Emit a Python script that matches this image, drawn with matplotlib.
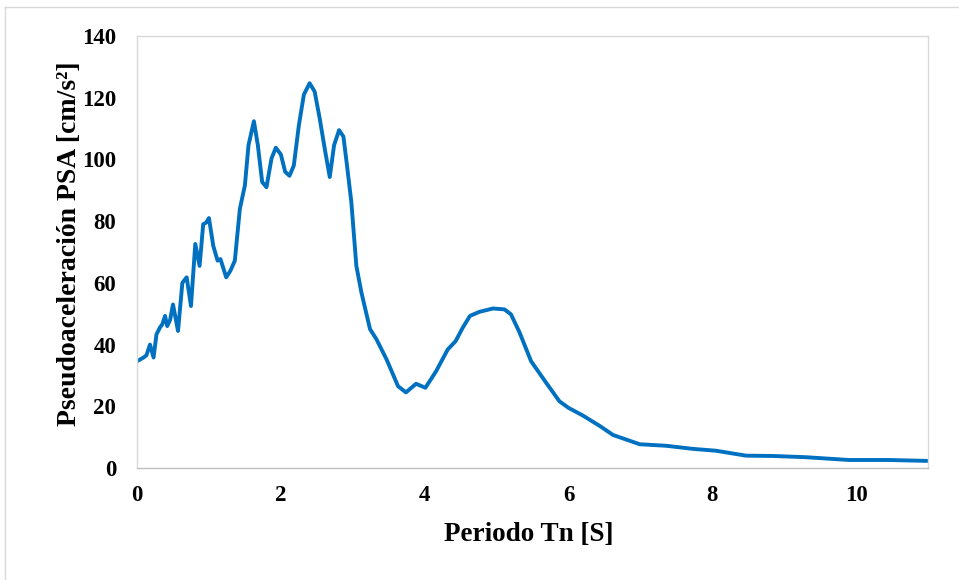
import matplotlib.pyplot as plt
from matplotlib.lines import Line2D

# spectrum values
periodo = [0.0, 0.09, 0.13, 0.18, 0.23, 0.27, 0.32, 0.35, 0.39, 0.42, 0.46, 0.5, 0.57,
           0.63, 0.69, 0.75, 0.81, 0.87, 0.92, 0.96, 1.0, 1.06, 1.12, 1.16, 1.24, 1.30,
           1.36, 1.43, 1.5, 1.55, 1.625, 1.68, 1.74, 1.80, 1.87, 1.93, 2.0, 2.06, 2.12,
           2.18, 2.25, 2.32, 2.40, 2.47, 2.54, 2.61, 2.68, 2.74, 2.81, 2.87, 2.92, 2.98,
           3.05, 3.12, 3.24, 3.33, 3.47, 3.63, 3.74, 3.88, 4.01, 4.16, 4.32, 4.43, 4.53,
           4.63, 4.76, 4.95, 5.11, 5.2, 5.32, 5.48, 5.69, 5.875, 6.0, 6.2, 6.43, 6.62,
           6.99, 7.36, 7.73, 8.05, 8.47, 8.84, 9.30, 9.9, 10.45, 10.99]
psa = [34.6, 35.8, 36.5, 40.0, 35.8, 43.3, 45.6, 46.5, 49.3, 46.0, 48.0, 53.0, 44.4,
       60.0, 61.8, 52.5, 72.6, 65.5, 79.0, 79.5, 81.0, 72.0, 67.2, 67.7, 61.8, 64.0,
       67.2, 84.0, 91.6, 104.6, 112.4, 104.6, 92.7, 91.0, 100.3, 103.8, 101.6, 96.0, 94.7,
       98.0, 111.0, 121.0, 124.7, 122.0, 113.3, 103.5, 94.3, 104.6, 109.5, 107.4, 98.0, 86.2,
       65.5, 56.9, 45.0, 41.7, 35.2, 26.5, 24.5, 27.3, 26.0, 31.4, 38.4, 41.1, 45.5,
       49.3, 50.6, 51.7, 51.4, 49.8, 43.9, 34.6, 27.6, 21.6, 19.5, 17.0, 13.7, 10.7,
       7.7, 7.2, 6.2, 5.6, 4.0, 3.9, 3.5, 2.6, 2.6, 2.3]

plt.rcParams['font.family'] = ['Liberation Serif', 'DejaVu Serif']
plt.rcParams['font.weight'] = 'bold'

fig = plt.figure(figsize=(9.59, 5.8), dpi=100)
ax = fig.add_axes([0.1429, 0.1931, 0.8248, 0.7448])

ax.plot(periodo, psa, color='#0070C0', linewidth=2.8, solid_joinstyle='round',
        solid_capstyle='round')

ax.set_xlim(0, 11)
ax.set_ylim(0, 140)
ax.set_xticks(range(0, 11, 2))
ax.set_yticks(range(0, 141, 20))
ax.tick_params(length=0, labelsize=16.5)
ax.tick_params(axis='x', pad=12)
ax.tick_params(axis='y', pad=15)
for lab in ax.get_xticklabels() + ax.get_yticklabels():
    lab.set_fontweight('bold')

for s in ax.spines.values():
    s.set_color('#D9D9D9')
    s.set_linewidth(1.0)
ax.spines['bottom'].set_color('#BFBFBF')

ax.set_xlabel('Periodo Tn [S]', fontsize=19.5, fontweight='bold')
ax.set_ylabel('Pseudoaceleración PSA [cm/s²]', fontsize=20, fontweight='bold')
ax.xaxis.set_label_coords(0.495, -0.124)
ax.yaxis.set_label_coords(-0.07, 0.52)

# outer chart frame (left and top edges visible)
fig.add_artist(Line2D([5 / 959, 5 / 959], [0, 1 - 7 / 580], color='#D9D9D9', lw=1))
fig.add_artist(Line2D([5 / 959, 1], [1 - 7 / 580, 1 - 7 / 580], color='#D9D9D9', lw=1))

fig.savefig('out.png', dpi=100)
